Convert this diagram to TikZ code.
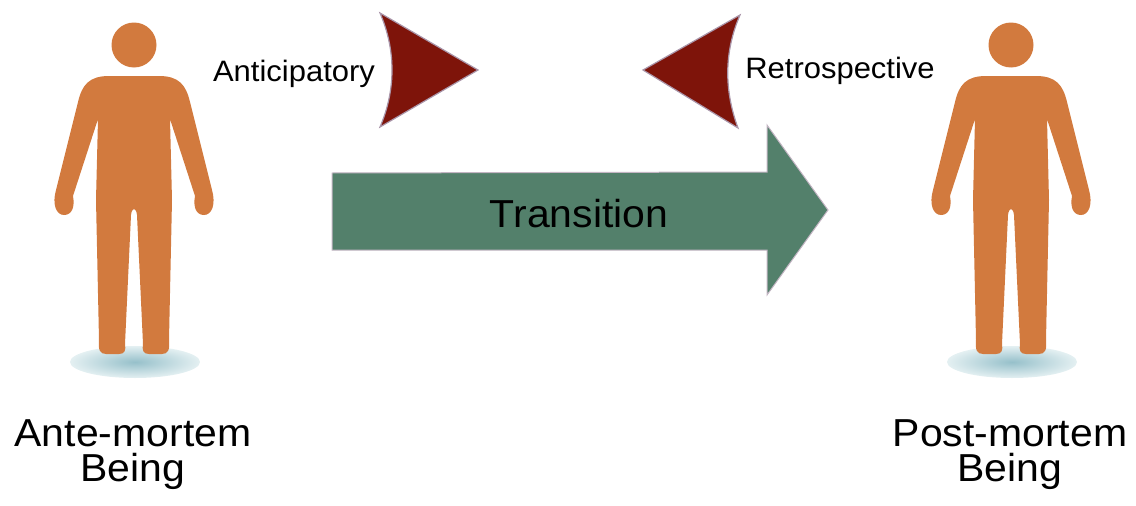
\documentclass[tikz,border=0pt]{standalone}
\usepackage{fontspec}
\setmainfont{Liberation Sans}[FakeStretch=1.05]

\definecolor{pelle}{RGB}{210,122,62}
\definecolor{verde}{RGB}{83,128,107}
\definecolor{rosso}{RGB}{126,20,10}
\definecolor{bordo}{RGB}{170,150,170}
\definecolor{ombra}{RGB}{150,192,202}
\definecolor{ombrachiara}{RGB}{228,240,242}

\tikzset{
    etichetta/.style={align=center,anchor=north,inner sep=0pt,font=\fontsize{39}{35}\selectfont},
    piccola/.style={anchor=base,inner sep=0pt,font=\fontsize{29.5}{34}\selectfont},
    punta/.style={fill=rosso,draw=bordo,line width=1.2pt,line join=miter},
    persona/.pic={
        \shade[inner color=ombra,outer color=ombrachiara] (1,362) ellipse [x radius=65,y radius=16];
        \fill[pelle] (0,45) circle [radius=22.5];
        \fill[pelle] (-70,215)
            .. controls (-62,215) and (-59,207) .. (-61,196)
            -- (-36,119) -- (-38,200) -- (-35,340)
            .. controls (-36,350) and (-34,354) .. (-28,354)
            -- (-15,354)
            .. controls (-9,354) and (-8,350) .. (-9,344)
            -- (-3,215)
            .. controls (-2,207) and (2,207) .. (3,215)
            -- (9,344)
            .. controls (8,350) and (9,354) .. (15,354)
            -- (28,354)
            .. controls (34,354) and (36,350) .. (35,340)
            -- (38,200) -- (36,119) -- (61,196)
            .. controls (59,207) and (62,215) .. (70,215)
            .. controls (78,215) and (82,204) .. (78,190)
            -- (56,102)
            .. controls (52,85) and (45,76) .. (25,76)
            -- (-25,76)
            .. controls (-45,76) and (-52,85) .. (-56,102)
            -- (-78,190)
            .. controls (-82,204) and (-78,215) .. (-70,215) -- cycle;
    }
}

\begin{document}
\begin{tikzpicture}[x=1pt,y=-1pt]
    \useasboundingbox (0,0) rectangle (1136,506);

    %%%%%%%%%% Figure %%%%%%%%%%
    \pic at (134,0) {persona};
    \pic at (1011,0) {persona};

    %%%%%%%%% Frecce %%%%%%%%%
    \path[punta] (380,13) -- (478,70) -- (380,127) .. controls (396,90) and (396,50) .. (380,13) -- cycle;
    \path[punta] (740,15) -- (643,70) -- (738,128) .. controls (724,90) and (724,52) .. (740,15) -- cycle;
    \path[fill=verde,draw=bordo!70,line width=1pt] (332,173) -- (767,172) -- (767,125) -- (828,210)
        -- (767,295) -- (767,250) -- (332,250) -- cycle;

    %%%%%%%%%% Nodi %%%%%%%%%%
    \node (ante) at (133,419) [etichetta] {Ante-mortem\\Being};
    \node (post) at (1010,419) [etichetta] {Post-mortem\\Being};
    \node (antic) at (294,81.7) [piccola] {Anticipatory};
    \node (retro) at (840,78.3) [piccola] {Retrospective};
    \node (trans) at (579,227) [piccola,font=\fontsize{39}{44}\selectfont] {Transition};
\end{tikzpicture}
\end{document}
